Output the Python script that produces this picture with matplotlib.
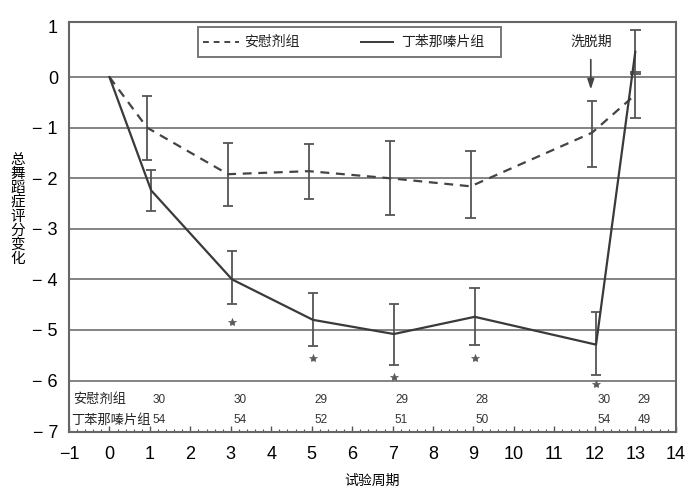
import matplotlib
matplotlib.use("Agg")
import matplotlib.pyplot as plt
from matplotlib.ticker import MultipleLocator
from matplotlib.patches import Rectangle

plt.rcParams['font.family'] = ['Liberation Sans', 'Noto Sans CJK SC', 'DejaVu Sans']
CJK = ['Noto Sans CJK SC', 'DejaVu Sans']

weeks = [0, 1, 3, 5, 7, 9, 12, 13]
placebo_mean = [0.0, -1.0, -1.92, -1.86, -2.0, -2.16, -1.1, -0.35]
placebo_lo = [None, -1.64, -2.55, -2.42, -2.73, -2.79, -1.78, -0.81]
placebo_hi = [None, -0.37, -1.30, -1.32, -1.26, -1.46, -0.47, 0.10]
tbz_mean = [0.0, -2.24, -4.0, -4.8, -5.08, -4.74, -5.29, 0.5]
tbz_lo = [None, -2.65, -4.49, -5.32, -5.69, -5.30, -5.90, 0.07]
tbz_hi = [None, -1.84, -3.44, -4.26, -4.48, -4.18, -4.65, 0.93]
star_weeks = [3, 5, 7, 9, 12]
star_y = [-4.84, -5.55, -5.93, -5.55, -6.06]
n_weeks = [1, 3, 5, 7, 9, 12, 13]
n_placebo = [30, 30, 29, 29, 28, 30, 29]
n_tbz = [54, 54, 52, 51, 50, 54, 49]
label_placebo = '安慰剂组'
label_tbz = '丁苯那嗪片组'

fig = plt.figure(figsize=(6.91, 4.99), dpi=100)
ax = fig.add_axes([0.0999, 0.134, 0.878, 0.822])

ax.set_xlim(-1, 14)
ax.set_ylim(-7.02, 1.09)

for y in range(-6, 1):
    ax.axhline(y, color='#7a7a7a', lw=1.3, zorder=1)

px = [w - 0.07 if w not in (0, 13) else w for w in weeks]
tx = [w + 0.03 if w not in (0, 13) else w for w in weeks]

ax.plot(px, placebo_mean, color='#444444', lw=1.6, ls=(0, (4, 3)), zorder=3)
ax.plot(tx, tbz_mean, color='#3a3a3a', lw=1.6, zorder=3)

for xs, lo, hi in ((px, placebo_lo, placebo_hi), (tx, tbz_lo, tbz_hi)):
    for x, l, h in zip(xs, lo, hi):
        if l is None:
            continue
        ax.vlines(x, l, h, color='#555555', lw=1.3, zorder=2)
        ax.hlines([l, h], x - 0.13, x + 0.13, color='#555555', lw=1.3, zorder=2)

ax.plot([w + 0.03 for w in star_weeks], star_y, ls='none', marker='*', ms=6,
        color='#5a5a5a', mec='#5a5a5a', mew=0.5, zorder=3)

ax.text(-0.9, -6.38, label_placebo, family=CJK, fontsize=9.5, va='center', ha='left', color='#222222')
ax.text(-0.95, -6.78, label_tbz, family=CJK, fontsize=9.5, va='center', ha='left', color='#222222')
for x, a, b in zip(n_weeks, n_placebo, n_tbz):
    ax.text(x + 0.22, -6.38, str(a), fontsize=8.5, ha='center', va='center', color='#333333')
    ax.text(x + 0.22, -6.78, str(b), fontsize=8.5, ha='center', va='center', color='#333333')

# legend box
ax.add_patch(Rectangle((2.2, 0.39), 7.48, 0.6, fill=False, ec='#777777', lw=1.4, zorder=4))
ax.plot([2.3, 3.2], [0.69, 0.69], color='#444444', lw=1.4, ls=(0, (3, 2.5)))
ax.text(3.33, 0.69, label_placebo, family=CJK, fontsize=10, va='center', ha='left', color='#222222')
ax.plot([6.23, 7.0], [0.69, 0.69], color='#3a3a3a', lw=1.4)
ax.text(7.22, 0.69, label_tbz, family=CJK, fontsize=10, va='center', ha='left', color='#222222')

# washout annotation
ax.text(11.9, 0.7, '洗脱期', family=CJK, fontsize=10, ha='center', va='center', color='#222222')
ax.annotate('', xy=(11.9, -0.3), xytext=(11.9, 0.4),
            arrowprops=dict(arrowstyle='-|>,head_length=0.6,head_width=0.2',
                            color='#444444', lw=1.2, mutation_scale=10))

ax.xaxis.set_minor_locator(MultipleLocator(0.2))
ax.set_xticks(range(-1, 15))
ax.set_xticklabels(['\u22121'] + [str(i) for i in range(0, 15)])
ax.set_yticks(range(-7, 2))
ax.set_yticklabels(['\u2212 %d' % (-v) if v < 0 else str(v) for v in range(-7, 2)])
ax.tick_params(axis='x', direction='in', length=4, width=1, color='#555555', labelsize=13, pad=10)
ax.tick_params(axis='x', which='minor', direction='in', length=2.5, width=0.8, color='#555555')
ax.tick_params(axis='y', length=0, labelsize=13, pad=8)
for s in ax.spines.values():
    s.set_color('#666666')
    s.set_linewidth(1.5)

ax.set_xlabel('试验周期', family=CJK, fontsize=10, labelpad=8)
fig.text(0.026, 0.58, '\n'.join('总舞蹈症评分变化'), family=CJK, fontsize=10.5,
         ha='center', va='center', linespacing=1.02)

fig.savefig('out.png', dpi=100)
